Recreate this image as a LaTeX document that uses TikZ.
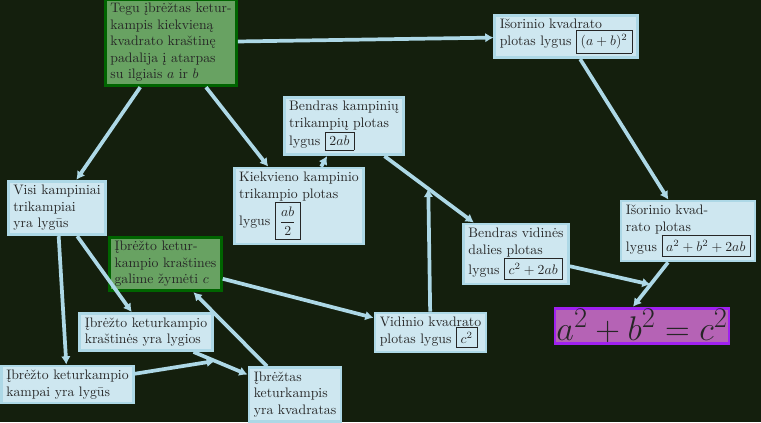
\documentclass[tikz,border=0pt]{standalone}
\usepackage{fontspec}
\usetikzlibrary{arrows.meta,calc}
\definecolor{bg}{RGB}{20,31,13}
\definecolor{lb}{RGB}{173,216,230}
\definecolor{lbfill}{RGB}{206,231,240}
\definecolor{dg}{RGB}{0,100,0}
\definecolor{gfill}{RGB}{104,162,98}
\definecolor{pborder}{RGB}{160,32,240}
\definecolor{pfill}{RGB}{181,99,181}
\begin{document}
\begin{tikzpicture}[x=0.727pt,y=-0.727pt,
  box/.style={draw=lb, fill=lbfill, line width=2pt, align=left, inner xsep=3.6pt, inner ysep=3pt, text=black!85},
  gbox/.style={draw=dg, fill=gfill, line width=2pt, align=left, inner xsep=3.6pt, inner ysep=3pt, text=black!85},
  pbox/.style={draw=pborder, fill=pfill, line width=2pt, inner sep=1pt, font=\Huge, text=black!85},
  arr/.style={draw=lb, line width=2.7pt, -{Latex[length=6pt,width=7pt]}}]
\fill[bg] (0,0) rectangle (761,422);
\useasboundingbox (0,0) rectangle (761,422);

\node[gbox] (n1) at (171,42.5) {Tegu įbrėžtas ketur-\\kampis kiekvieną\\kvadrato kraštinę\\padalija į atarpas\\su ilgiais $a$ ir $b$};
\node[box] (n2) at (566,36.5) {Išorinio kvadrato\\plotas lygus \fbox{$(a+b)^2$}};
\node[box] (n3) at (344,126) {Bendras kampinių\\trikampių plotas\\lygus \fbox{$2ab$}};
\node[box] (n4) at (299,206) {Kiekvieno kampinio\\trikampio plotas\\lygus \fbox{$\displaystyle\frac{ab}{2}$}};
\node[box] (n5) at (57,208) {Visi kampiniai\\trikampiai\\yra lygūs};
\node[gbox] (n6) at (165.5,264) {Įbrėžto ketur-\\kampio kraštines\\galime žymėti $c$};
\node[box] (n7) at (516,254) {Bendras vidinės\\dalies plotas\\lygus \fbox{$c^2+2ab$}};
\node[box] (n8) at (688,231) {Išorinio kvad-\\rato plotas\\lygus \fbox{$a^2+b^2+2ab$}};
\node[pbox] (n9) at (642,326) {$a^2+b^2=c^2$};
\node[box] (n10) at (430.5,332.5) {Vidinio kvadrato\\plotas lygus \fbox{$c^2$}};
\node[box] (n11) at (146,332) {Įbrėžto keturkampio\\kraštinės yra lygios};
\node[box] (n12) at (67.5,384.5) {Įbrėžto keturkampio\\kampai yra lygūs};
\node[box] (n13) at (295,394.5) {Įbrėžtas\\keturkampis\\yra kvadratas};

\draw[arr] (n1) -- (n2);
\draw[arr] (n1) -- (n5);
\draw[arr] (n1) -- (n4);
\draw[arr] (n2) -- (n8);
\draw[arr] (n4) -- (n3);
\draw[arr] (n3) -- (n7);
\coordinate (j1) at ($(n3)!0.49!(n7)$);
\draw[arr] (n10) -- (j1);
\coordinate (s8) at ($(n8.south)+(-20,0)$);
\coordinate (t9) at ($(n9.north)+(-9,0)$);
\draw[arr] (s8) -- (t9);
\coordinate (j2) at ($(s8)!0.5!(t9)$);
\draw[arr] (n7) -- (j2);
\draw[arr] (n5) -- (n12);
\draw[arr] (n5) -- (n11);
\draw[arr] (n6) -- (n10);
\draw[arr] (n13) -- (n6);
\draw[arr] (n11) -- (n13);
\coordinate (j3) at ($(n11)!0.463!(n13)$);
\draw[arr] (n12) -- (j3);
\end{tikzpicture}
\end{document}
